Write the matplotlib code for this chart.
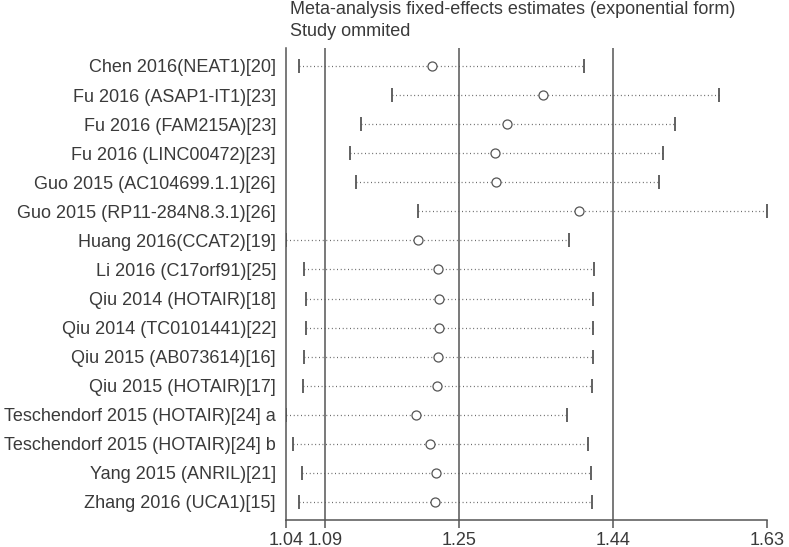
import matplotlib.pyplot as plt
import numpy as np

plt.rcParams['font.family'] = ['Liberation Sans', 'DejaVu Sans']

# studies (top to bottom)
estudos = ['Chen 2016(NEAT1)[20]', 'Fu 2016 (ASAP1-IT1)[23]', 'Fu 2016 (FAM215A)[23]',
           'Fu 2016 (LINC00472)[23]', 'Guo 2015 (AC104699.1.1)[26]', 'Guo 2015 (RP11-284N8.3.1)[26]',
           'Huang 2016(CCAT2)[19]', 'Li 2016 (C17orf91)[25]', 'Qiu 2014 (HOTAIR)[18]',
           'Qiu 2014 (TC0101441)[22]', 'Qiu 2015 (AB073614)[16]', 'Qiu 2015 (HOTAIR)[17]',
           'Teschendorf 2015 (HOTAIR)[24] a', 'Teschendorf 2015 (HOTAIR)[24] b',
           'Yang 2015 (ANRIL)[21]', 'Zhang 2016 (UCA1)[15]']
estimativa = [1.2192, 1.3548, 1.3107, 1.2964, 1.2976, 1.3993, 1.2021, 1.2266,
              1.2278, 1.2278, 1.2266, 1.2253, 1.1993, 1.2168, 1.2241, 1.2229]
inferior = [1.0567, 1.1706, 1.1326, 1.1191, 1.1258, 1.2024, 1.0400, 1.0628,
            1.0652, 1.0652, 1.0628, 1.0616, 1.0401, 1.0493, 1.0603, 1.0567]
superior = [1.4058, 1.5712, 1.5173, 1.5026, 1.4977, 1.6300, 1.3874, 1.4180,
            1.4168, 1.4168, 1.4168, 1.4156, 1.3850, 1.4107, 1.4144, 1.4156]
# overall fixed-effects: lower CI, estimate, upper CI
geral = [1.0885, 1.2527, 1.4413]

cinza = '#555555'
texto = '#3a3a3a'

fig = plt.figure(figsize=(7.89, 5.47), dpi=100)
ax = fig.add_axes([0.3621, 0.0494, 0.6104, 0.8629])

y = np.arange(1, len(estudos) + 1)

for v in geral:
    ax.axvline(v, color=cinza, lw=1.1, zorder=1)

ax.hlines(y, inferior, superior, colors=cinza, lw=0.9, linestyles=(0, (0.7, 2.2)), zorder=2)
ax.plot(inferior, y, '|', color=cinza, ms=10, mew=1.3, zorder=3)
ax.plot(superior, y, '|', color=cinza, ms=10, mew=1.3, zorder=3)
ax.plot(estimativa, y, 'o', mfc='white', mec=cinza, ms=6.5, mew=0.9, zorder=4)

xmin = min(inferior)
xmax = max(superior)
ax.set_xlim(xmin, xmax)
ax.set_ylim(len(estudos) + 0.62, 0.38)

ticks = [xmin] + geral + [xmax]
ax.set_xticks(ticks)
ax.set_xticklabels(['%.2f' % t for t in ticks])
ax.set_yticks(y)
ax.set_yticklabels(estudos)

ax.tick_params(axis='x', direction='out', length=6, width=1.1, color=cinza,
               labelsize=13, labelcolor=texto, pad=3)
ax.tick_params(axis='y', length=0, labelsize=13, labelcolor=texto, pad=7)

ax.spines['top'].set_visible(False)
ax.spines['right'].set_visible(False)
ax.spines['left'].set_color(cinza)
ax.spines['left'].set_linewidth(1.1)
ax.spines['bottom'].set_color(cinza)
ax.spines['bottom'].set_linewidth(1.1)

fig.text(290 / 789, 1 - 10 / 547, 'Meta-analysis fixed-effects estimates (exponential form)',
         fontsize=13, color=texto, va='center', ha='left')
fig.text(290 / 789, 1 - 31 / 547, 'Study ommited',
         fontsize=13, color=texto, va='center', ha='left')

plt.savefig('out.png', dpi=100)
